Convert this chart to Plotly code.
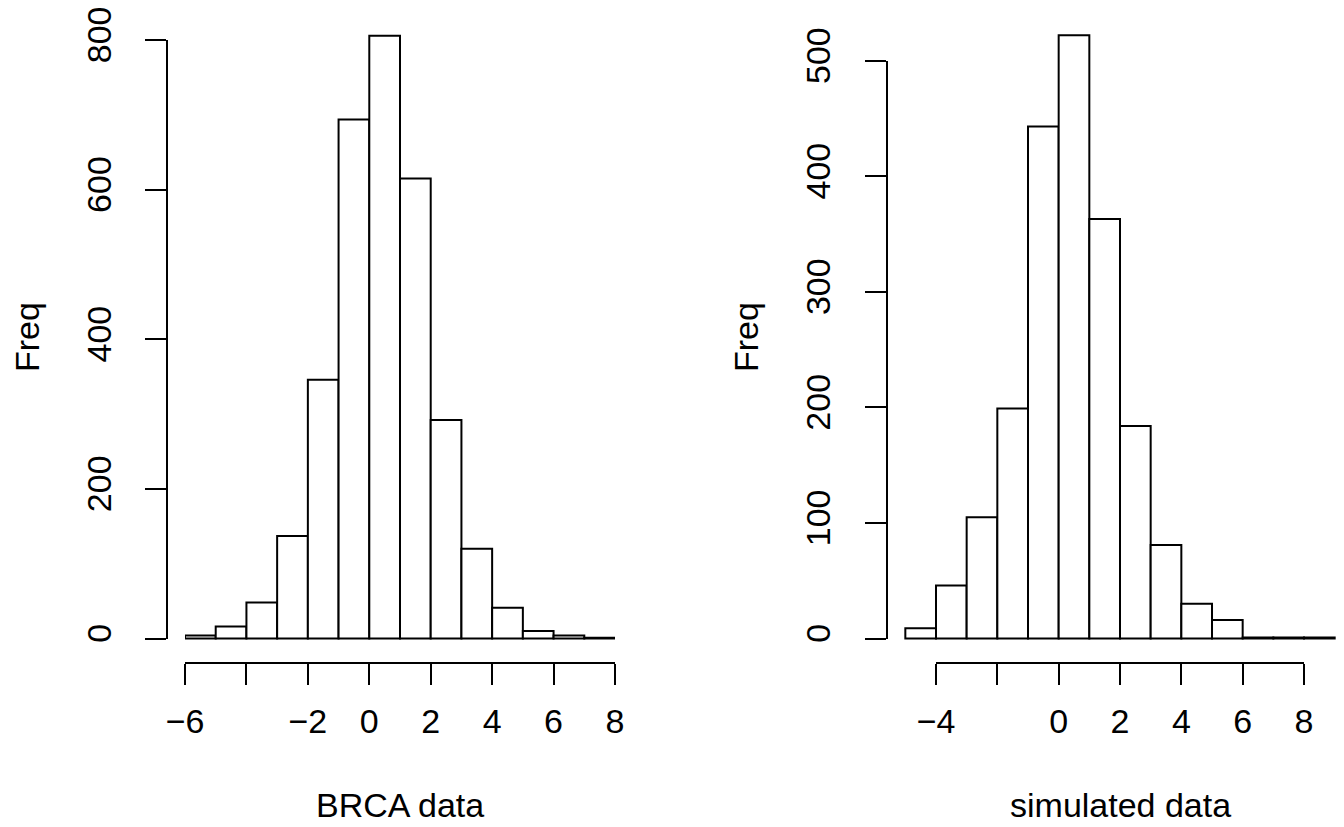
import plotly.graph_objects as go

# ---------------- data ----------------
brca_bin_starts = [-6, -5, -4, -3, -2, -1, 0, 1, 2, 3, 4, 5, 6, 7]
brca_counts = [4, 16, 48, 137, 346, 694, 806, 615, 292, 120, 41, 10, 4, 1]

sim_bin_starts = [-5, -4, -3, -2, -1, 0, 1, 2, 3, 4, 5, 6, 7, 8]
sim_counts = [9, 46, 105, 199, 443, 522, 363, 184, 81, 30, 16, 1, 1, 1]

brca_xticks = [-6, -4, -2, 0, 2, 4, 6, 8]
brca_xticklabels = ["\u22126", "", "\u22122", "0", "2", "4", "6", "8"]
brca_yticks = [0, 200, 400, 600, 800]

sim_xticks = [-4, -2, 0, 2, 4, 6, 8]
sim_xticklabels = ["\u22124", "", "0", "2", "4", "6", "8"]
sim_yticks = [0, 100, 200, 300, 400, 500]

xlab_left = "BRCA data"
xlab_right = "simulated data"
ylab = "Freq"

# ---------------- figure ----------------
W, H = 1344, 827
FONT = "Liberation Sans, Arial, Helvetica, sans-serif"
FS = 34
LW = 2

def px_x(p):
    return p / W

def px_y(p):
    return (H - p) / H

fig = go.Figure()

bar_style = dict(marker=dict(color="white", line=dict(color="black", width=LW)),
                 offset=0, width=1, showlegend=False, hoverinfo="skip")

fig.add_trace(go.Bar(x=brca_bin_starts, y=brca_counts, xaxis="x", yaxis="y", **bar_style))
fig.add_trace(go.Bar(x=sim_bin_starts, y=sim_counts, xaxis="x2", yaxis="y2", **bar_style))

# dummy traces to register decorative axis subplots
fig.add_trace(go.Scatter(x=[None], y=[None], xaxis="x3", yaxis="y3", showlegend=False, hoverinfo="skip"))
fig.add_trace(go.Scatter(x=[None], y=[None], xaxis="x4", yaxis="y4", showlegend=False, hoverinfo="skip"))

data_dom_y = [px_y(662), px_y(12.6)]
hidden = dict(visible=False, showgrid=False, zeroline=False, fixedrange=True, automargin=False)

tickfont = dict(family=FONT, size=FS, color="black")
deco_x = dict(showline=True, linecolor="black", linewidth=LW, ticks="outside", ticklen=21,
              tickwidth=LW, tickcolor="black", showgrid=False, zeroline=False,
              tickfont=tickfont, anchor="free", position=px_y(662.5), fixedrange=True,
              ticklabelstandoff=8, automargin=False)
deco_y = dict(showline=True, linecolor="black", linewidth=LW, ticks="outside", ticklen=21,
              tickwidth=LW, tickcolor="black", showgrid=False, zeroline=False,
              tickfont=tickfont, anchor="free", tickangle=-90, fixedrange=True,
              ticklabelstandoff=21, automargin=False)

fig.update_layout(
    width=W, height=H,
    margin=dict(l=0, r=0, t=0, b=0, pad=0, autoexpand=False),
    paper_bgcolor="white", plot_bgcolor="rgba(0,0,0,0)",
    bargap=0,
    showlegend=False,
    font=dict(family=FONT, size=FS, color="black"),
    # left data axes
    xaxis=dict(domain=[px_x(185), px_x(615)], range=[-6, 8], anchor="y", **hidden),
    yaxis=dict(domain=data_dom_y, range=[-31.4, 836.8], anchor="x", **hidden),
    # right data axes
    xaxis2=dict(domain=[px_x(888), 1.0], range=[-5.565, 9.304], anchor="y2", **hidden),
    yaxis2=dict(domain=data_dom_y, range=[-20.3, 541.6], anchor="x2", **hidden),
    # left decorative axes
    xaxis3=dict(domain=[px_x(185), px_x(615)], range=[-6, 8],
                tickmode="array", tickvals=brca_xticks, ticktext=brca_xticklabels, **deco_x),
    yaxis3=dict(domain=[px_y(638.5), px_y(40)], range=[0, 800],
                tickmode="array", tickvals=brca_yticks, ticktext=[str(v) for v in brca_yticks],
                position=px_x(167.3), **deco_y),
    # right decorative axes
    xaxis4=dict(domain=[px_x(936), px_x(1304)], range=[-4, 8],
                tickmode="array", tickvals=sim_xticks, ticktext=sim_xticklabels, **deco_x),
    yaxis4=dict(domain=[px_y(638.5), px_y(60.7)], range=[0, 500],
                tickmode="array", tickvals=sim_yticks, ticktext=[str(v) for v in sim_yticks],
                position=px_x(887), **deco_y),
    annotations=[
        dict(text=xlab_left, x=px_x(400), y=px_y(805), xref="paper", yref="paper",
             showarrow=False, xanchor="center", yanchor="middle", font=dict(family=FONT, size=FS)),
        dict(text=xlab_right, x=px_x(1120), y=px_y(805), xref="paper", yref="paper",
             showarrow=False, xanchor="center", yanchor="middle", font=dict(family=FONT, size=FS)),
        dict(text=ylab, x=px_x(27), y=px_y(337), xref="paper", yref="paper", textangle=-90,
             showarrow=False, xanchor="center", yanchor="middle", font=dict(family=FONT, size=FS)),
        dict(text=ylab, x=px_x(746), y=px_y(337), xref="paper", yref="paper", textangle=-90,
             showarrow=False, xanchor="center", yanchor="middle", font=dict(family=FONT, size=FS)),
    ],
)

fig.write_html("out.html",
               config={"displayModeBar": False, "staticPlot": True},
               post_script="document.body.style.margin='0';document.body.style.overflow='hidden';")
